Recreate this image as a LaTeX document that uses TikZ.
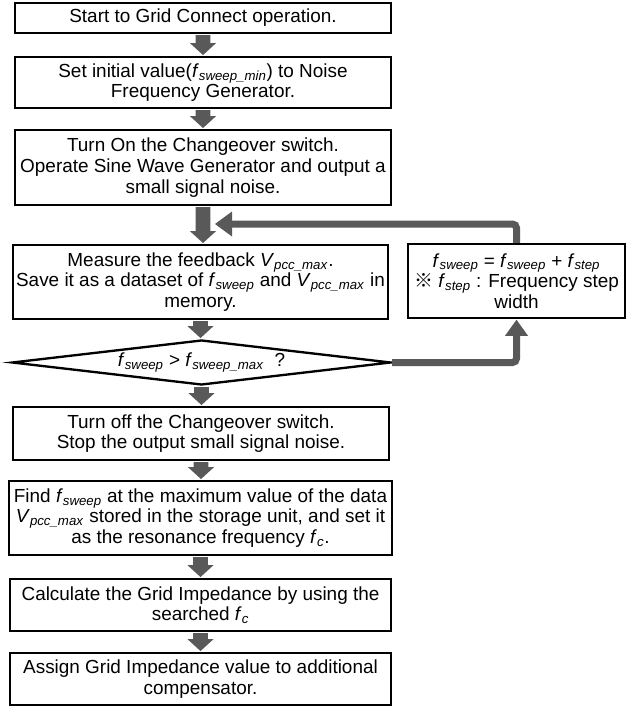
\documentclass[tikz,border=0pt]{standalone}
\usepackage{fontspec}
\setmainfont{Liberation Sans}
\newfontfamily\cjkfont{Noto Sans CJK JP}
\usetikzlibrary{shapes.geometric,calc}
\definecolor{agray}{RGB}{89,89,89}
\newcommand{\fsub}[2]{\textit{#1}\textsubscript{\textit{#2}}}
\newcommand{\blockarrow}[2]{%
  \fill[agray] let \p1=(#1.south), \p2=(#2.north) in
  (\x1-5.5pt,\y1-0.8pt) -- (\x1-5.5pt,\y2+9.5pt) -- (\x1-9.75pt,\y2+9.5pt) -- (\x1,\y2+0.6pt)
  -- (\x1+9.75pt,\y2+9.5pt) -- (\x1+5.5pt,\y2+9.5pt) -- (\x1+5.5pt,\y1-0.8pt) -- cycle;}
\tikzset{
  box/.style={draw=black, line width=1.75pt, fill=white, align=center, inner sep=1pt,
    font=\fontsize{14.2}{15.5}\selectfont},
  dec/.style={diamond, draw=black, line width=1.75pt, fill=white, inner sep=0pt, aspect=8.4,
    font=\fontsize{14.2}{15.5}\selectfont},
  fbline/.style={draw=agray, line width=5.25pt, rounded corners=3pt},
}
\begin{document}
\begin{tikzpicture}[x=0.75pt,y=-0.75pt]
\useasboundingbox (0,0) rectangle (626,706);

\node[box, minimum width=282pt, minimum height=22.5pt] (b1) at (203,18)
  {Start to Grid Connect operation.};
\node[box, minimum width=282pt, minimum height=38.25pt] (b2) at (203,82.5)
  {Set initial value(\fsub{f}{sweep\_min}) to Noise\\Frequency Generator.};
\node[box, minimum width=282pt, minimum height=56.25pt] (b3) at (203,167.5)
  {Turn On the Changeover switch.\\Operate Sine Wave Generator and output a\\small signal noise.};
\node[box, minimum width=281.25pt, minimum height=55.5pt] (b4) at (200.5,282)
  {Measure the feedback \fsub{V}{pcc\_max}.\\Save it as a dataset of \fsub{f}{sweep} and \fsub{V}{pcc\_max} in\\memory.};
\node[box, minimum width=162.75pt, minimum height=55.5pt] (rb) at (516.5,281)
  {\fsub{f}{sweep} = \fsub{f}{sweep} + \fsub{f}{step}\\{\cjkfont ※} \fsub{f}{step} : Frequency step\\width};
\node[dec, minimum width=284.25pt, minimum height=33.75pt] (dia) at (201.5,362.5)
  {\fsub{f}{sweep} > \fsub{f}{sweep\_max}\ \ ?};
\node[box, minimum width=282pt, minimum height=39.75pt] (b5) at (201,433.5)
  {Turn off the Changeover switch.\\Stop the output small signal noise.};
\node[box, minimum width=287.25pt, minimum height=55.5pt] (b6) at (200.5,518)
  {Find \fsub{f}{sweep} at the maximum value of the data\\\fsub{V}{pcc\_max} stored in the storage unit, and set it\\as the resonance frequency \fsub{f}{c}.};
\node[box, minimum width=285.75pt, minimum height=39pt] (b7) at (200.5,605)
  {Calculate the Grid Impedance by using the\\searched \fsub{f}{c}};
\node[box, minimum width=285.75pt, minimum height=39pt] (b8) at (200.5,679)
  {Assign Grid Impedance value to additional\\compensator.};

\blockarrow{b1}{b2}
\blockarrow{b2}{b3}
\blockarrow{b3}{b4}
\blockarrow{b4}{dia}
\blockarrow{dia}{b5}
\blockarrow{b5}{b6}
\blockarrow{b6}{b7}
\blockarrow{b7}{b8}

% feedback loop
\coordinate (fbtip) at (215,224);
\draw[fbline] (rb.north) -- (rb.north |- fbtip) -- ($(fbtip)+(16,0)$);
\fill[agray] (fbtip) -- ++(17,-12.5) -- ++(0,25) -- cycle;

\draw[fbline] (dia.east) -- (dia.east -| rb.south) -- ($(rb.south)+(0,15)$);
\fill[agray] ($(rb.south)+(0,0.6)$) -- ++(-11.5,16) -- ++(23,0) -- cycle;
\end{tikzpicture}
\end{document}
